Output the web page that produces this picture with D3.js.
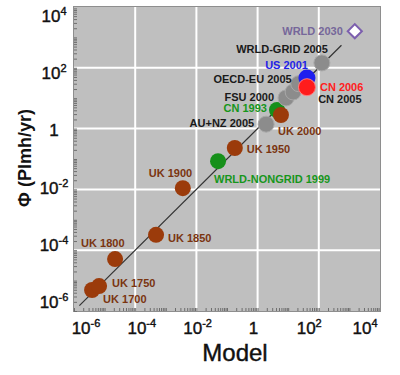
<!DOCTYPE html>
<html>
<head>
<meta charset="utf-8">
<script src="https://cdn.jsdelivr.net/npm/d3@7"></script>
<style>
  body { margin: 0; background: #fff; }
  svg { font-family: "Liberation Sans", Arial, sans-serif; }
</style>
</head>
<body>
<div id="chart"></div>
<script>
var names = ["UK 1700", "UK 1750", "UK 1800", "UK 1850", "UK 1900",
  "WRLD-NONGRID 1999", "UK 1950", "AU+NZ 2005", "CN 1993", "UK 2000",
  "FSU 2000", "CN 2005", "OECD-EU 2005", "US 2001", "CN 2006",
  "WRLD-GRID 2005", "WRLD 2030"];
var model = [3.9e-6, 6.6e-6, 2.2e-5, 4.8e-4, 3.6e-3,
  0.051, 0.18, 1.9, 4.3, 5.8,
  8.5, 14.5, 22, 41, 41,
  126, 1500];
var observed = [4.9e-6, 6.6e-6, 5.1e-5, 3.2e-4, 1.1e-2,
  0.085, 0.23, 1.4, 4.1, 2.8,
  10.2, 16, 30, 46, 23,
  145, 1600];
var groups = ["uk", "uk", "uk", "uk", "uk",
  "green", "uk", "gray", "green", "uk",
  "gray", "gray", "gray", "blue", "red",
  "gray", "future"];

var tickValues = [1e-6, 1e-4, 1e-2, 1, 1e2, 1e4];
var tickExp = ["-6", "-4", "-2", "", "2", "4"];
var fitLine = [1.5e-6, 5.5e2];

// layout / styling
var fill = { uk: "#9b3b0b", green: "#16901a", gray: "#8c8c8c", blue: "#1f1fee", red: "#ff1c1c", future: "#fff" };
var textColor = { uk: "#7a3410", green: "#17961b", gray: "#1a1a1a", blue: "#1f1fe6", red: "#ff2020", future: "#76679a" };
// label offsets from point: [dx, dy, anchor]
var labelPos = {
  "UK 1700": [11, 9, "start"], "UK 1750": [13, -3, "start"], "UK 1800": [-34, -16, "start"],
  "UK 1850": [12, 3, "start"], "UK 1900": [-34, -15, "start"], "WRLD-NONGRID 1999": [-4, 18, "start"],
  "UK 1950": [12, 1, "start"], "AU+NZ 2005": [-12, -1, "end"], "CN 1993": [-10, -2, "end"],
  "UK 2000": [-3, 16, "start"], "FSU 2000": [-12, -1, "end"], "CN 2005": [25, 7, "start"],
  "OECD-EU 2005": [-7, -5, "end"], "US 2001": [1, -13, "end"], "CN 2006": [13, 0, "start"],
  "WRLD-GRID 2005": [6, -14, "end"], "WRLD 2030": [-12, 0, "end"]
};

var w = 400, h = 375;
var padL = 74, padR = 380, padT = 7, padB = 311;

var data = names.map(function (n, i) {
  return { name: n, x: model[i], y: observed[i], g: groups[i] };
});

var svg = d3.select("#chart").append("svg")
  .attr("width", w)
  .attr("height", h);

var x = d3.scaleLog().domain([1e-6, 1e4]).range([padL, padR]);
var y = d3.scaleLog().domain([1e-6, 1e4]).range([padB, padT]);
// tick labels in the original sit a little off their grid lines
var xLab = d3.scaleLog().domain([1e-6, 1e4]).range([86, 365]);
var yLab = d3.scaleLog().domain([1e-6, 1e4]).range([302, 16]);

// plot background
svg.append("rect")
  .attr("x", padL - 0.5).attr("y", padT - 0.5)
  .attr("width", padR - padL + 1).attr("height", padB - padT + 1)
  .attr("fill", "#bfbfbf")
  .attr("stroke", "#8e8e8e");

// grid
svg.append("g").selectAll("line.gx")
  .data(tickValues.slice(1, -1))
  .enter().append("line")
  .attr("x1", d => x(d)).attr("x2", d => x(d))
  .attr("y1", padT).attr("y2", padB)
  .attr("stroke", "#fff").attr("stroke-width", 2);
svg.append("g").selectAll("line.gy")
  .data(tickValues.slice(1, -1))
  .enter().append("line")
  .attr("y1", d => y(d)).attr("y2", d => y(d))
  .attr("x1", padL).attr("x2", padR)
  .attr("stroke", "#fff").attr("stroke-width", 2);

// minor ticks inside the frame
var minor = [];
for (var e = -6; e < 4; e++) {
  for (var k = 1; k < 10; k++) minor.push(k * Math.pow(10, e));
}
svg.append("g")
  .attr("transform", "translate(0," + padB + ")")
  .call(d3.axisTop(x).tickValues(minor).tickSize(3).tickFormat(""))
  .call(g => g.select(".domain").remove())
  .selectAll("line").attr("stroke", "#6e6e6e");
svg.append("g")
  .attr("transform", "translate(" + padL + ",0)")
  .call(d3.axisRight(y).tickValues(minor).tickSize(3).tickFormat(""))
  .call(g => g.select(".domain").remove())
  .selectAll("line").attr("stroke", "#6e6e6e");

// tick labels
function tickText(sel) {
  sel.each(function (d, i) {
    var t = d3.select(this);
    if (tickExp[i] === "") { t.text("1"); return; }
    t.append("tspan").text("10");
    t.append("tspan").attr("dy", -7).attr("font-size", 11).text(tickExp[i]);
  });
}
svg.append("g").selectAll("text")
  .data(tickValues)
  .enter().append("text")
  .attr("x", d => xLab(d))
  .attr("y", 334)
  .attr("text-anchor", "middle")
  .attr("font-size", 17)
  .attr("fill", "#111")
  .attr("stroke", "#111").attr("stroke-width", 0.4)
  .call(tickText);
svg.append("g").selectAll("text")
  .data(tickValues)
  .enter().append("text")
  .attr("x", 54)
  .attr("y", d => yLab(d) + 6)
  .attr("text-anchor", "middle")
  .attr("font-size", 17)
  .attr("fill", "#111")
  .attr("stroke", "#111").attr("stroke-width", 0.4)
  .call(tickText);

// axis titles
svg.append("text")
  .attr("x", 235).attr("y", 361)
  .attr("text-anchor", "middle")
  .attr("font-size", 24)
  .attr("fill", "#111")
  .attr("stroke", "#111").attr("stroke-width", 0.4)
  .text("Model");
svg.append("text")
  .attr("transform", "translate(31,158) rotate(-90)")
  .attr("text-anchor", "middle")
  .attr("font-size", 18)
  .attr("font-weight", "bold")
  .attr("fill", "#111")
  .text("\u03A6 (PImh/yr)");

// y = x line
svg.append("line")
  .attr("x1", x(fitLine[0])).attr("y1", y(fitLine[0]))
  .attr("x2", x(fitLine[1])).attr("y2", y(fitLine[1]))
  .attr("stroke", "#333").attr("stroke-width", 1.2);

// points
var pts = data.filter(d => d.g !== "future");
svg.append("g").selectAll("circle")
  .data(pts)
  .enter().append("circle")
  .attr("cx", d => x(d.x))
  .attr("cy", d => y(d.y))
  .attr("r", d => (d.g === "red" || d.g === "blue") ? 8.5 : 8)
  .attr("fill", d => fill[d.g])
  .attr("stroke", d => d.g === "gray" ? "#a8a8a8" : d.g === "red" ? "#ff8080" : "none")
  .attr("stroke-width", 1);

var fut = data.filter(d => d.g === "future");
svg.append("g").selectAll("path")
  .data(fut)
  .enter().append("path")
  .attr("transform", d => "translate(" + x(d.x) + "," + y(d.y) + ") rotate(45)")
  .attr("d", "M-5,-5H5V5H-5Z")
  .attr("fill", "#fff")
  .attr("stroke", "#7c5fae")
  .attr("stroke-width", 2);

// labels
svg.append("g").selectAll("text")
  .data(data)
  .enter().append("text")
  .attr("x", d => x(d.x) + labelPos[d.name][0])
  .attr("y", d => y(d.y) + labelPos[d.name][1])
  .attr("dy", "0.36em")
  .attr("text-anchor", d => labelPos[d.name][2])
  .attr("font-size", 11)
  .attr("font-weight", "bold")
  .attr("fill", d => textColor[d.g])
  .text(d => d.name);
</script>
</body>
</html>
